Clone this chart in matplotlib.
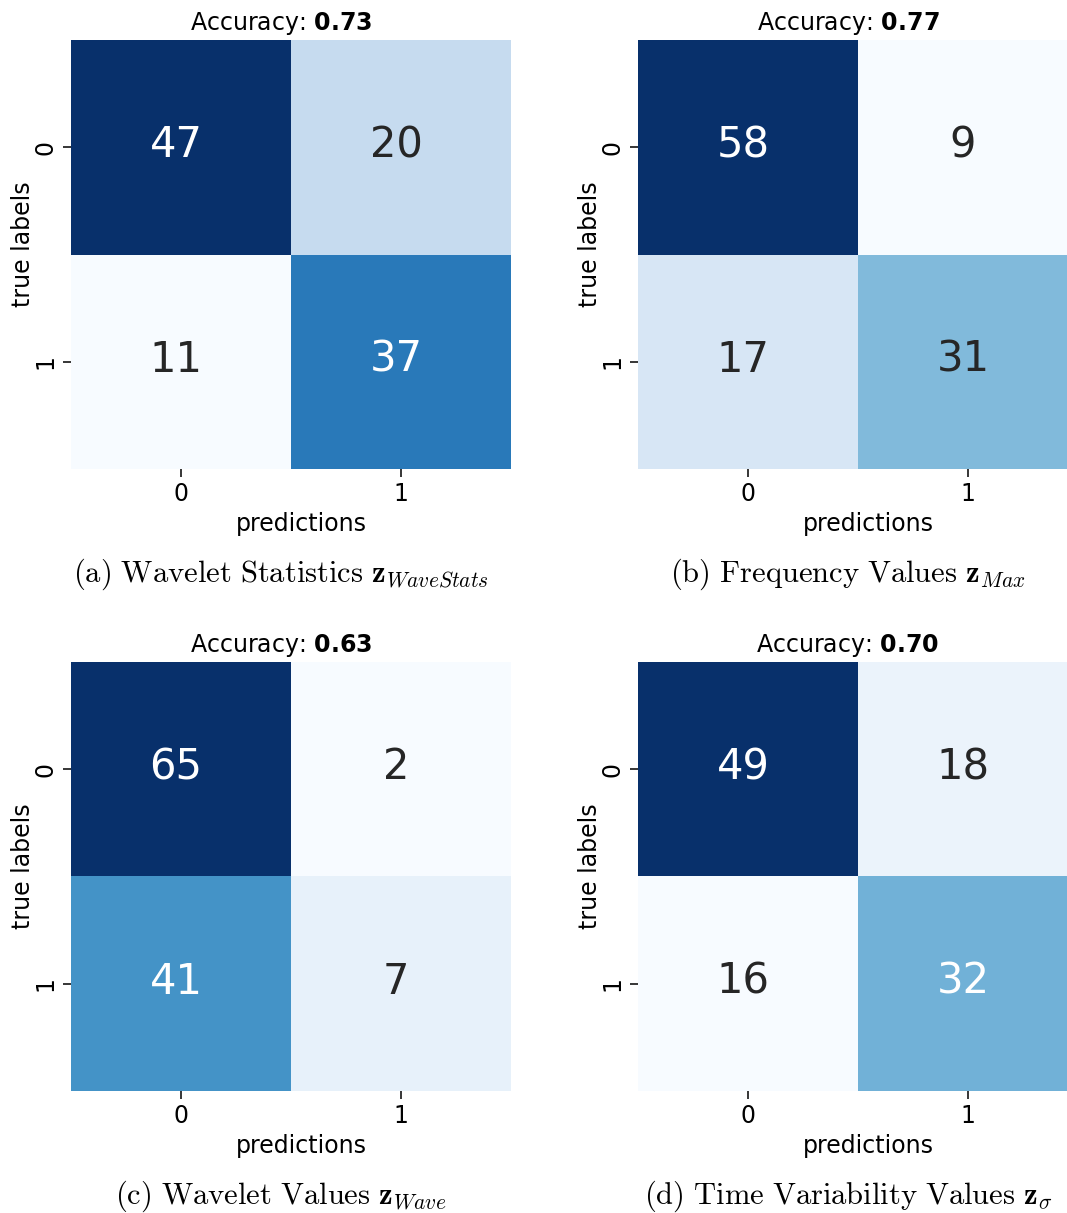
import matplotlib
matplotlib.use("Agg")
import matplotlib.pyplot as plt
import matplotlib.transforms as mtransforms
import numpy as np
import seaborn as sns

# Confusion matrices (rows: true labels, columns: predictions)
cm_wavestats = [[47, 20], [11, 37]]
cm_max = [[58, 9], [17, 31]]
cm_wave = [[65, 2], [41, 7]]
cm_sigma = [[49, 18], [16, 32]]

accuracies = ["0.73", "0.77", "0.63", "0.70"]
class_labels = ["0", "1"]
captions = [
    r"$\mathrm{(a)\ Wavelet\ Statistics}\ \mathbf{z}_{WaveStats}$",
    r"$\mathrm{(b)\ Frequency\ Values}\ \mathbf{z}_{Max}$",
    r"$\mathrm{(c)\ Wavelet\ Values}\ \mathbf{z}_{Wave}$",
    r"$\mathrm{(d)\ Time\ Variability\ Values}\ \mathbf{z}_{\sigma}$",
]

plt.rcParams["mathtext.fontset"] = "dejavusans"

W, H = 1067, 1213
fig = plt.figure(figsize=(W / 100, H / 100), dpi=100)

# axes boxes in pixels: left, top; shared width and height
boxes = [(71, 40), (638, 40), (71, 662), (638, 662)]
aw, ah = 440, 429

matrices = [cm_wavestats, cm_max, cm_wave, cm_sigma]

for i, (mat, acc, cap, (lx, ty)) in enumerate(zip(matrices, accuracies, captions, boxes)):
    ax = fig.add_axes([lx / W, 1 - (ty + ah) / H, aw / W, ah / H])
    sns.heatmap(np.array(mat), annot=True, fmt="d", cmap="Blues", cbar=False,
                xticklabels=class_labels, yticklabels=class_labels, ax=ax,
                annot_kws={"fontsize": 30})
    # nudge the cell annotations slightly left / up
    shift = mtransforms.ScaledTranslation(-5 / 100, 2 / 100, fig.dpi_scale_trans)
    for t in ax.texts:
        t.set_transform(t.get_transform() + shift)

    ax.set_title("Accuracy: " + r"$\mathbf{" + acc + "}$", fontsize=17, x=0.477, pad=7)
    ax.set_xlabel("predictions", fontsize=17)
    ax.xaxis.set_label_coords(0.523, -0.1)
    ax.set_ylabel("true labels", fontsize=17)
    ax.yaxis.set_label_coords(-0.081, 0.523)
    ax.tick_params(axis="both", labelsize=17, length=6, width=1.1)
    for t in ax.get_yticklabels():
        t.set_rotation(90)
        t.set_va("center")

    fig.text((lx + 210) / W, 1 - (ty + ah + 113) / H, cap,
             fontsize=22, ha="center", va="baseline", math_fontfamily="cm")

fig.savefig("out.png", dpi=100)
